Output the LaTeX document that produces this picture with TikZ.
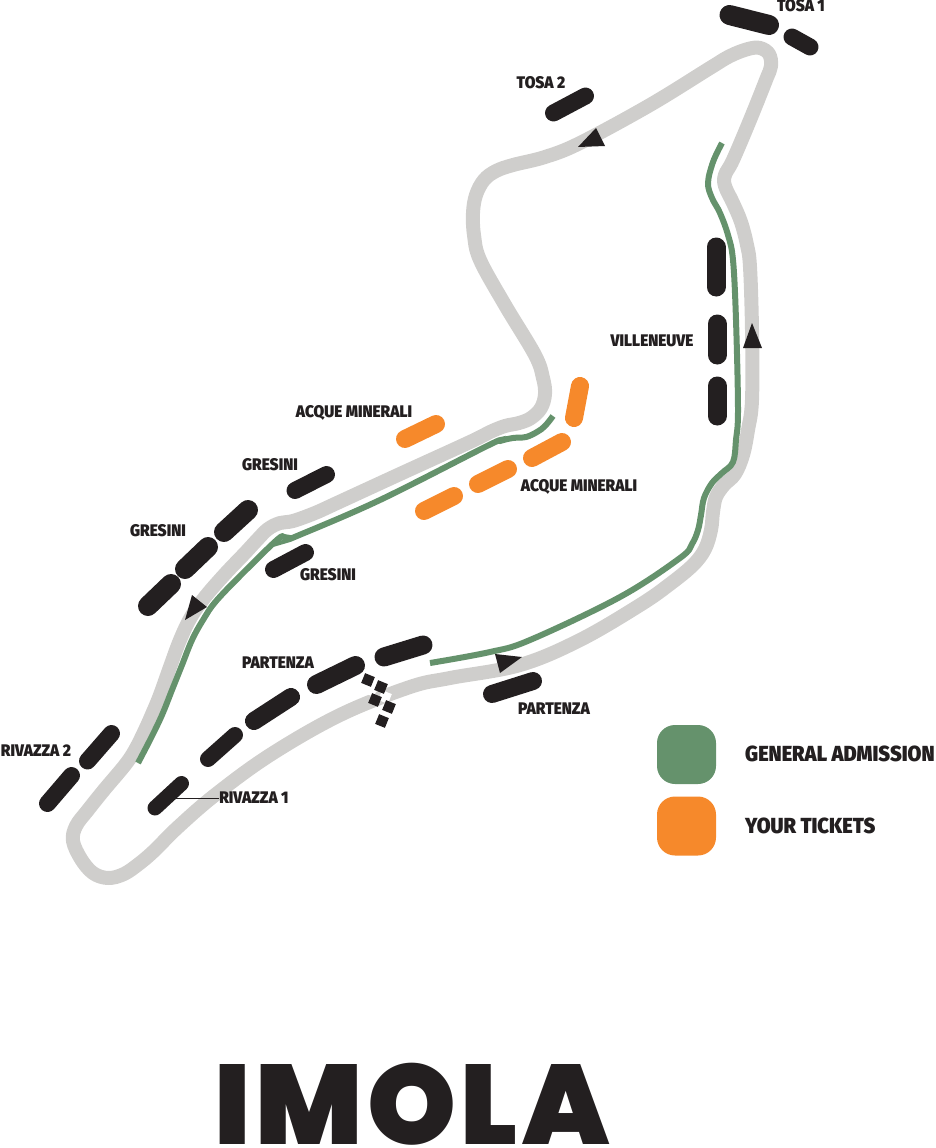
\documentclass[tikz,border=0pt]{standalone}
\usepackage{fontspec}
\setmainfont{Fira Sans}[BoldFont={Fira Sans Black}]
\newfontfamily\titlefont[LetterSpace=4]{Poppins Black}
\definecolor{trackgrey}{HTML}{CFCECC}
\definecolor{zonegreen}{HTML}{65926C}
\definecolor{zoneorange}{HTML}{F6892B}
\definecolor{standblack}{HTML}{231F20}
\tikzset{
  track/.style={draw=trackgrey,line width=14pt,line join=round},
  zone/.style={draw=zonegreen,line width=6pt},
  stand/.style={draw=standblack,line width=#1,line cap=round},
  stand/.default=19pt,
  ticket/.style={draw=zoneorange,line width=18pt,line cap=round},
  flow/.style={fill=standblack},
  tag/.style={text=standblack,inner sep=0pt,font=\fontsize{16.8}{17}\bfseries\addfontfeature{FakeStretch=0.92}},
  legendtag/.style={text=standblack,inner sep=0pt,anchor=west,font=\fontsize{21.8}{22}\bfseries\addfontfeature{FakeStretch=0.92}},
  swatch/.style={rounded corners=18pt,minimum size=59pt,inner sep=0pt}
}
\begin{document}
\begin{tikzpicture}[x=1pt,y=-1pt]
  \useasboundingbox (0,0) rectangle (935,1148);
  % circuit
  \draw[track] plot[smooth cycle,tension=0.6] coordinates {
    (108,878) (93,873) (81,859) (73,841) (76,826) (88,810) (104,790) (125,765)
    (135,750) (145,730) (153,712) (160,695) (170,667) (180,640) (191,617) (205,597)
    (225,574) (245,553) (257,540) (268,529) (280,523) (293,521) (315,513) (337,503)
    (400,474) (470,442) (490,432) (505,426) (519,423) (531,418) (541,408) (545,394)
    (543,378) (535,355) (505,305) (480,260) (474,235) (473,213) (476,195) (484,180)
    (496,171) (513,165) (545,157) (580,143) (650,105) (710,68) (730,56) (748,49)
    (760,48) (769,54) (771,66) (766,80) (750,120) (733,160) (725,175) (725,186)
    (733,203) (741,222) (747,245) (750,267) (752,330) (752,400) (748,430) (743,455)
    (735,474) (724,485) (716,497) (713,512) (711,530) (705,549) (693,565) (670,584)
    (640,605) (580,640) (520,665) (450,678) (410,687) (340,715) (270,755) (215,795)
    (177,828) (155,850) (140,863) (124,874)};
  % general admission
  \draw[zone] plot[smooth,tension=0.6] coordinates {
    (722,143) (713,162) (708,183) (712,198) (720,213) (728,235) (733,260) (736,320)
    (738,410) (736,440) (733,462) (722,473) (712,483) (704,498) (701,515) (698,530)
    (692,544) (680,558) (620,597) (530,640) (490,652) (430,663)};
  \draw[zone] plot[smooth,tension=0.6] coordinates {
    (553,416) (545,426) (537,432) (526,437) (513,438) (500,441) (487,446) (380,500)
    (297,536) (290,538) (284,537) (278,539) (250,566) (217,600) (203,620) (192,640)
    (182,665) (172,690) (162,715) (151,738) (138,763)};
  % stands
  \draw[stand=20pt] (729.5,15) -- (769,25);
  \draw[stand=17pt] (792,37) -- (810,47);
  \draw[stand=17pt] (553.5,113) -- (585.5,96);
  \draw[stand] (716,247) -- (716,287);
  \draw[stand] (717,324) -- (717,355);
  \draw[stand] (717,386) -- (717,416);
  \draw[stand=17pt] (295,490.5) -- (326.5,474.5);
  \draw[stand=20pt] (224,532) -- (248,510);
  \draw[stand=20pt] (185,569) -- (208,547);
  \draw[stand=20pt] (148,606) -- (171,584);
  \draw[stand=17pt] (273.5,569.5) -- (305.5,552.5);
  \draw[stand] (384,657) -- (423,645);
  \draw[stand] (316.5,684.5) -- (355.5,665.5);
  \draw[stand=18pt] (254,721) -- (291,697);
  \draw[stand=16pt] (208,759) -- (235,735);
  \draw[stand=15pt] (155,808) -- (181.5,783.5);
  \draw[stand=18pt] (492,694) -- (533,681);
  \draw[stand=17pt] (87.5,761) -- (111.5,733.5);
  \draw[stand=17pt] (47.5,803.5) -- (71.5,775.5);
  % your tickets
  \draw[ticket] (405,439) -- (436,424);
  \draw[ticket] (580,386) -- (574,418);
  \draw[ticket] (532,458) -- (562,442);
  \draw[ticket] (478,484) -- (508,469);
  \draw[ticket] (424,511) -- (454,496);
  % direction
  \fill[flow] (578,147) -- (596,128) -- (605,146) -- cycle;
  \fill[flow] (192,595) -- (207,607) -- (185,620) -- cycle;
  \fill[flow] (752,323) -- (743,348) -- (762,348) -- cycle;
  \fill[flow] (495,654) -- (522,657) -- (500,673) -- cycle;
  % start line
  \begin{scope}[every node/.style={rotate=-22,minimum size=10.5pt,inner sep=0pt}]
    \node[fill=white] (w1) at (371,690) {};
    \node[fill=white] (w2) at (385,697) {};
    \node[fill=standblack] (c1) at (368,680) {};
    \node[fill=standblack] (c2) at (381,687) {};
    \node[fill=standblack] (c3) at (375,700) {};
    \node[fill=standblack] (c4) at (389,707) {};
    \node[fill=standblack] (c5) at (382,721) {};
  \end{scope}
  % names
  \node[tag] (tosa1) at (801,6) {TOSA 1};
  \node[tag] (tosa2) at (541,83) {TOSA 2};
  \node[tag] (villeneuve) at (652,341) {VILLENEUVE};
  \node[tag] (acque1) at (354,413) {ACQUE MINERALI};
  \node[tag] (acque2) at (579,487) {ACQUE MINERALI};
  \node[tag] (gresini1) at (270,465) {GRESINI};
  \node[tag] (gresini2) at (158,531) {GRESINI};
  \node[tag] (gresini3) at (328,575) {GRESINI};
  \node[tag] (partenza1) at (278,663) {PARTENZA};
  \node[tag] (partenza2) at (554,709) {PARTENZA};
  \node[tag] (rivazza2) at (36,751) {RIVAZZA 2};
  \node[tag] (rivazza1) at (254,798) {RIVAZZA 1};
  \coordinate (rivazzastand) at (176,798);
  \draw[standblack,line width=1pt] (rivazzastand) -- (rivazza1);
  % legend
  \node[swatch,fill=zonegreen] (green) at (686.5,754.5) {};
  \node[swatch,fill=zoneorange] (orange) at (686.5,826) {};
  \node[legendtag] (general) at (745,754) {GENERAL ADMISSION};
  \node[legendtag] (tickets) at (745,826) {YOUR TICKETS};
  % title
  \node[text=standblack,inner sep=0pt,anchor=base,font=\fontsize{113}{113}\titlefont] (imola) at (412,1144) {IMOLA};
\end{tikzpicture}
\end{document}
